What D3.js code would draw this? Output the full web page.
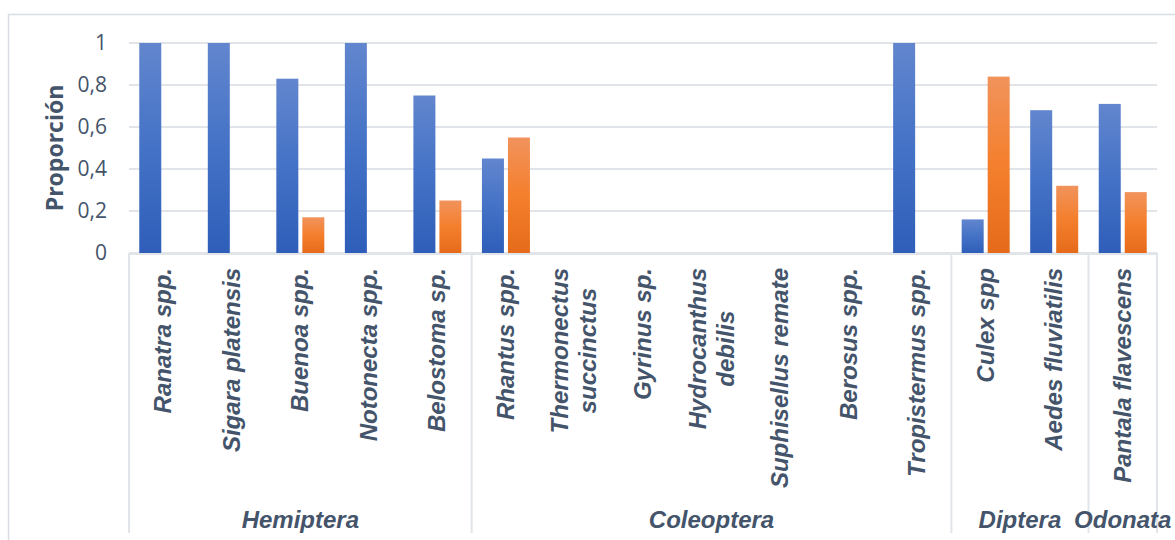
<!DOCTYPE html>
<html>
<head>
<meta charset="utf-8">
<script src="https://cdn.jsdelivr.net/npm/d3@7"></script>
<style>
  body { margin: 0; background: #fff; }
  svg { display: block; }
</style>
</head>
<body>
<script>
// data
const species = ["Ranatra spp.", "Sigara platensis", "Buenoa spp.", "Notonecta spp.", "Belostoma sp.",
  "Rhantus spp.", "Thermonectus succinctus", "Gyrinus sp.", "Hydrocanthus debilis", "Suphisellus remate",
  "Berosus spp.", "Tropistermus spp.", "Culex spp", "Aedes fluviatilis", "Pantala flavescens"];
const blueValues = [1, 1, 0.83, 1, 0.75, 0.45, 0, 0, 0, 0, 0, 1, 0.16, 0.68, 0.71];
const orangeValues = [0, 0, 0.17, 0, 0.25, 0.55, 0, 0, 0, 0, 0, 0, 0.84, 0.32, 0.29];
const orders = ["Hemiptera", "Coleoptera", "Diptera", "Odonata"];
const orderSizes = [5, 7, 2, 1];
const yTicks = [0, 0.2, 0.4, 0.6, 0.8, 1];
// labels that Excel wrapped onto two lines
const wrapped = {"Thermonectus succinctus": ["Thermonectus", "succinctus"], "Hydrocanthus debilis": ["Hydrocanthus", "debilis"]};

const W = 1175, H = 540;
const plot = {left: 129, right: 1157, top: 43, bottom: 253};
const textColor = "#44546A";
const gridColor = "#E1E4E9";

const svg = d3.select("body").append("svg")
  .attr("width", W).attr("height", H);

// gradients for the bars
const defs = svg.append("defs");
function grad(id, stops) {
  const g = defs.append("linearGradient").attr("id", id)
    .attr("x1", 0).attr("y1", 0).attr("x2", 0).attr("y2", 1);
  stops.forEach(s => g.append("stop").attr("offset", s[0]).attr("stop-color", s[1]));
}
grad("gBlue", [[0, "#6286CE"], [0.5, "#4472C6"], [1, "#2E5EB9"]]);
grad("gOrange", [[0, "#F1935C"], [0.5, "#F47F2D"], [1, "#E56B1A"]]);

// outer chart border
svg.append("path")
  .attr("d", `M8.5,${H} V14.5 H${W}`)
  .attr("fill", "none").attr("stroke", "#D9DDE3").attr("stroke-width", 1.5);

const x = d3.scaleBand().domain(species).range([plot.left, plot.right]);
const y = d3.scaleLinear().domain([0, 1]).range([plot.bottom, plot.top]);

// gridlines
svg.append("g").selectAll("line")
  .data(yTicks)
  .join("line")
  .attr("x1", plot.left).attr("x2", plot.right)
  .attr("y1", d => y(d)).attr("y2", d => y(d))
  .attr("stroke", gridColor).attr("stroke-width", 2);

// y axis labels
const yAxis = svg.append("g")
  .attr("transform", `translate(107,0)`)
  .call(d3.axisLeft(y).tickValues(yTicks).tickSize(0).tickPadding(0)
    .tickFormat(d => String(d).replace(".", ",")));
yAxis.select(".domain").remove();
yAxis.selectAll("text")
  .attr("fill", textColor)
  .style("font-family", "'Open Sans', sans-serif")
  .style("font-size", "21px");

svg.append("text")
  .attr("transform", `translate(63,${(plot.top + plot.bottom) / 2}) rotate(-90)`)
  .attr("text-anchor", "middle")
  .attr("fill", textColor)
  .style("font-family", "'Open Sans', sans-serif")
  .style("font-weight", "bold")
  .style("font-size", "23px")
  .text("Proporción");

// bars
const barW = 22, barGap = 4;
const bars = svg.append("g");
bars.selectAll(".blue")
  .data(species)
  .join("rect")
  .attr("class", "blue")
  .attr("x", d => x(d) + x.bandwidth() / 2 - barGap / 2 - barW)
  .attr("width", barW)
  .attr("y", (d, i) => y(blueValues[i]))
  .attr("height", (d, i) => y(0) - y(blueValues[i]))
  .attr("fill", "url(#gBlue)");
bars.selectAll(".orange")
  .data(species)
  .join("rect")
  .attr("class", "orange")
  .attr("x", d => x(d) + x.bandwidth() / 2 + barGap / 2)
  .attr("width", barW)
  .attr("y", (d, i) => y(orangeValues[i]))
  .attr("height", (d, i) => y(0) - y(orangeValues[i]))
  .attr("fill", "url(#gOrange)");

// baseline
svg.append("line")
  .attr("x1", plot.left).attr("x2", plot.right)
  .attr("y1", y(0) + 1).attr("y2", y(0) + 1)
  .attr("stroke", gridColor).attr("stroke-width", 2);

// category labels (rotated, italic bold)
const labelFont = "'Liberation Sans', Arial, sans-serif";
const labelSize = "24px";
const labels = svg.append("g");
species.forEach(s => {
  const cx = x(s) + x.bandwidth() / 2;
  const lines = wrapped[s] || [s];
  const lineH = 28;
  if (lines.length === 1) {
    labels.append("text")
      .attr("transform", `translate(${cx + 8},268) rotate(-90)`)
      .attr("text-anchor", "end")
      .attr("fill", textColor)
      .style("font-family", labelFont).style("font-style", "italic")
      .style("font-weight", "bold").style("font-size", labelSize)
      .text(s);
  } else {
    // block anchored at top, lines centred on the longest one
    const probe = labels.append("text")
      .style("font-family", labelFont).style("font-style", "italic")
      .style("font-weight", "bold").style("font-size", labelSize)
      .text(lines[0]);
    const len = probe.node().getComputedTextLength();
    probe.remove();
    const midY = 268 + len / 2;
    lines.forEach((ln, k) => {
      const off = (k - (lines.length - 1) / 2) * lineH;
      labels.append("text")
        .attr("transform", `translate(${cx + off + 8},${midY}) rotate(-90)`)
        .attr("text-anchor", "middle")
        .attr("fill", textColor)
        .style("font-family", labelFont).style("font-style", "italic")
        .style("font-weight", "bold").style("font-size", labelSize)
        .text(ln);
    });
  }
});

// group separators and order names
let start = 0;
const bounds = [plot.left];
orderSizes.forEach(n => {
  start += n;
  bounds.push(x(species[start - 1]) + x.bandwidth());
});
svg.append("g").selectAll("line")
  .data(bounds)
  .join("line")
  .attr("x1", d => d).attr("x2", d => d)
  .attr("y1", plot.bottom).attr("y2", 533)
  .attr("stroke", gridColor).attr("stroke-width", 2);

svg.append("g").selectAll("text")
  .data(orders)
  .join("text")
  .attr("x", (d, i) => (bounds[i] + bounds[i + 1]) / 2)
  .attr("y", 528)
  .attr("text-anchor", "middle")
  .attr("fill", textColor)
  .style("font-family", labelFont).style("font-style", "italic")
  .style("font-weight", "bold").style("font-size", labelSize)
  .text(d => d);
</script>
</body>
</html>
